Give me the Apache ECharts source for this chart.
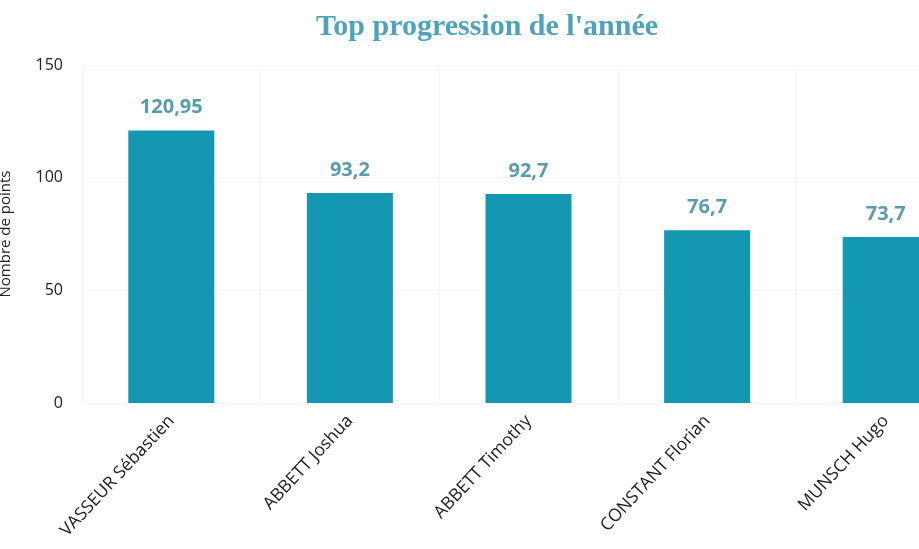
<!DOCTYPE html>
<html lang="fr">
<head>
    <meta charset="utf-8">
    <title>Top progression de l'année</title>
    <script src="https://cdn.jsdelivr.net/npm/echarts@6/dist/echarts.min.js"></script>
    <style>
        html, body { height: 100%; margin: 0; background: #fff; }
    </style>
</head>
<body>
    <div id="main" style="width:919px;height:549px;"></div>
    <script type="text/javascript">
        // données
        var joueurs = ['VASSEUR Sébastien', 'ABBETT Joshua', 'ABBETT Timothy', 'CONSTANT Florian', 'MUNSCH Hugo'];
        var progression = [120.95, 93.2, 92.7, 76.7, 73.7];
        var ticksY = [0, 50, 100, 150];

        var myChart = echarts.init(document.getElementById('main'));

        var option = {
            backgroundColor: '#fff',
            title: {
                text: "Top progression de l'année",
                left: 311,
                top: 7,
                textStyle: {
                    color: '#4ea3b8',
                    fontFamily: 'Liberation Serif',
                    fontWeight: 'bold',
                    fontSize: 30
                }
            },
            // le graphique est rogné à droite : la grille dépasse du canevas
            grid: { left: 82, width: 893, top: 65, bottom: 146, containLabel: false, outerBoundsMode: 'none' },
            xAxis: {
                type: 'category',
                data: joueurs,
                axisLine: { show: false },
                axisTick: { show: false },
                axisLabel: {
                    rotate: 47,
                    margin: 15,
                    color: '#222',
                    fontFamily: 'Open Sans',
                    fontSize: 17.5
                },
                splitLine: { show: true, lineStyle: { color: '#f5f5f5' } }
            },
            yAxis: {
                type: 'value',
                min: ticksY[0],
                max: ticksY[ticksY.length - 1],
                interval: 50,
                name: 'Nombre de points',
                nameLocation: 'middle',
                nameGap: 69,
                nameTextStyle: { color: '#222', fontFamily: 'Open Sans', fontSize: 15 },
                axisLine: { show: false },
                axisTick: { show: false },
                axisLabel: {
                    margin: 19,
                    color: '#222',
                    fontFamily: 'Open Sans',
                    fontSize: 16
                },
                splitLine: { lineStyle: { color: '#f5f5f5' } }
            },
            series: [{
                type: 'bar',
                data: progression,
                barWidth: 86,
                itemStyle: { color: '#1497b0' },
                label: {
                    show: true,
                    position: 'top',
                    distance: 13,
                    color: '#5a9cab',
                    fontFamily: 'Open Sans',
                    fontWeight: 'bold',
                    fontSize: 20,
                    formatter: function (p) {
                        return String(p.value).replace('.', ',');
                    }
                }
            }]
        };

        myChart.setOption(option);
    </script>
</body>
</html>
